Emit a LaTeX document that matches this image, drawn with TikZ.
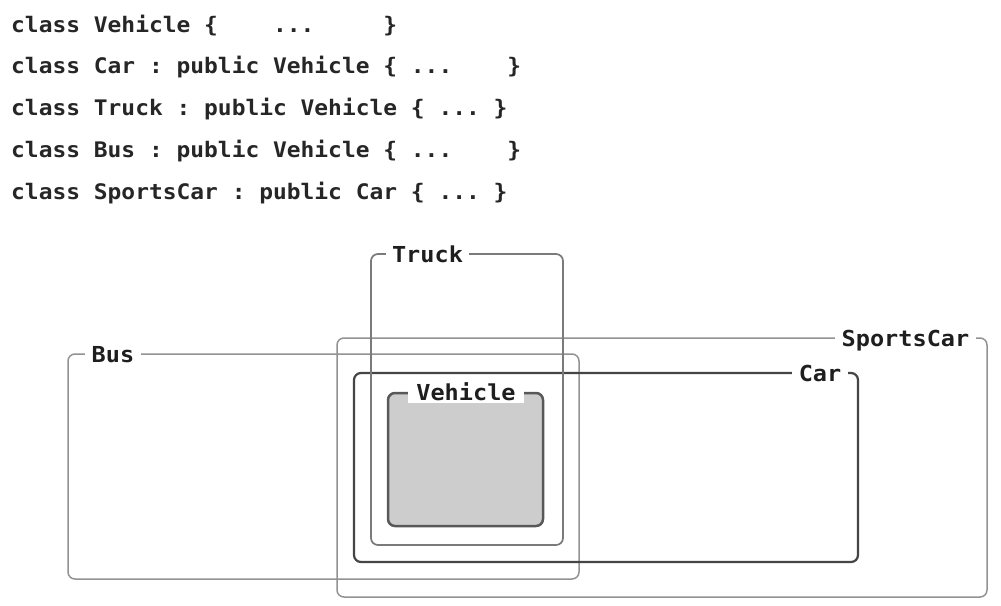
\documentclass[tikz,border=0pt]{standalone}
\usepackage{fontspec}
\newfontfamily\codefont[FakeStretch=1.07]{DejaVu Sans Mono}
\frenchspacing
\definecolor{codetext}{HTML}{262626}
\definecolor{labeltext}{HTML}{1E1E1E}
\definecolor{lightline}{HTML}{929292}
\definecolor{midline}{HTML}{7A7A7A}
\definecolor{darkline}{HTML}{454545}
\definecolor{vehfill}{HTML}{CDCDCD}
\definecolor{vehline}{HTML}{585858}
\tikzset{
  box/.style={draw, rounded corners=7pt, inner sep=0pt, outer sep=0pt},
  lbl/.style={fill=white, inner xsep=6.5pt, inner ysep=2pt, anchor=base, text=labeltext,
    font=\codefont\bfseries\fontsize{22}{22}\selectfont},
  codeline/.style={anchor=base west, inner sep=0pt, text=codetext,
    font=\codefont\bfseries\fontsize{21.4}{21.4}\selectfont}
}
\begin{document}
\begin{tikzpicture}[x=1pt,y=-1pt]
\fill[white] (0,0) rectangle (1001,605);
\useasboundingbox (0,0) rectangle (1001,605);

% code lines
\node[codeline] (c1) at (11,32)     {class Vehicle \{\ \ \ \ ...\ \ \ \ \ \}};
\node[codeline] (c2) at (11,73.75)  {class Car : public Vehicle \{ ...\ \ \ \ \}};
\node[codeline] (c3) at (11,115.5)  {class Truck : public Vehicle \{ ... \}};
\node[codeline] (c4) at (11,157.25) {class Bus : public Vehicle \{ ...\ \ \ \ \}};
\node[codeline] (c5) at (11,199)    {class SportsCar : public Car \{ ... \}};

% boxes
\node[box, draw=lightline, line width=1.5pt, minimum width=650pt, minimum height=259pt] (sports) at (662,467.5) {};
\node[box, draw=lightline, line width=1.5pt, minimum width=511pt, minimum height=225pt] (bus) at (323.5,466.5) {};
\node[box, draw=darkline, line width=2.2pt, minimum width=504pt, minimum height=189pt] (car) at (606,467.5) {};
\node[box, draw=midline, line width=1.7pt, minimum width=192pt, minimum height=291pt] (truck) at (467,399.5) {};
\node[box, draw=vehline, fill=vehfill, line width=2.5pt, minimum width=155pt, minimum height=133pt] (vehicle) at (465.5,459.5) {};

% labels
\node[lbl] (lsports) at (905.5,346) {SportsCar};
\node[lbl] (lbus) at (113,362) {Bus};
\node[lbl] (lcar) at (820,381) {Car};
\node[lbl] (ltruck) at (427.5,262) {Truck};
\node[lbl, inner xsep=8pt, inner ysep=3pt] (lvehicle) at (466,400) {Vehicle};
\end{tikzpicture}
\end{document}
